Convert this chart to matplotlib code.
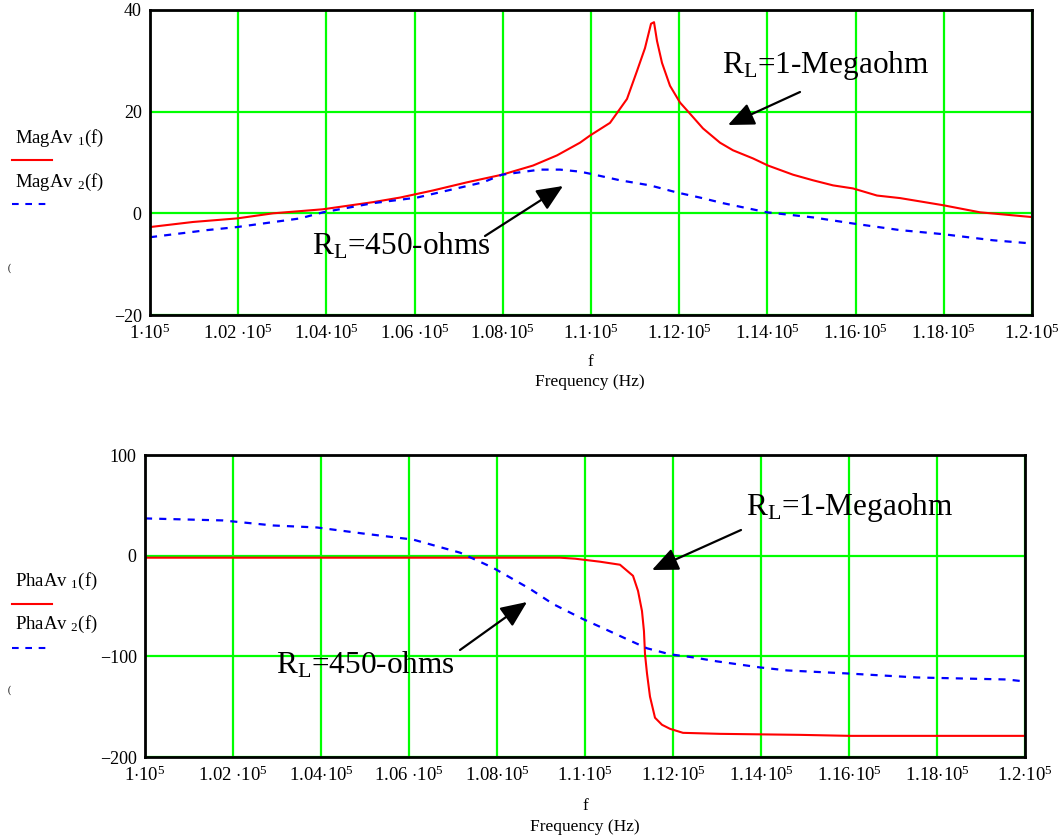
import matplotlib
matplotlib.use("Agg")
import matplotlib.pyplot as plt
from matplotlib.lines import Line2D
from matplotlib.patches import FancyArrowPatch

plt.rcParams['font.family'] = ['Liberation Serif', 'DejaVu Serif']
plt.rcParams['mathtext.fontset'] = 'custom'
plt.rcParams['mathtext.rm'] = 'Liberation Serif'
plt.rcParams['mathtext.it'] = 'Liberation Serif:italic'
plt.rcParams['mathtext.bf'] = 'Liberation Serif:bold'

# ---------------- data ----------------
# Magnitude plot (dB)
mag1_f = [100000, 100975, 101973, 102789, 103923, 105057, 105669, 106417, 107188,
          107982, 108685, 109229, 109751, 109977, 110431, 110816, 111043, 111224,
          111361, 111429, 111497, 111610, 111791, 112018, 112245, 112540, 112925,
          113220, 113674, 114014, 114581, 115034, 115488, 115941, 116485, 117007,
          117982, 118821, 119955]
mag1_v = [-2.7, -1.7, -1.0, 0.0, 0.8, 2.2, 3.1, 4.5, 6.1,
          7.6, 9.4, 11.4, 13.9, 15.3, 17.8, 22.5, 28.0, 32.5,
          37.3, 37.6, 33.9, 29.6, 25.1, 21.8, 19.6, 16.7, 13.9,
          12.4, 10.8, 9.4, 7.6, 6.5, 5.5, 4.9, 3.5, 3.0,
          1.6, 0.2, -0.7]
mag2_f = [100000, 101293, 101973, 103401, 103923, 105057, 106054, 107551, 107982,
          108844, 109297, 109751, 109977, 110658, 111338, 111950, 112472, 112993,
          113991, 115034, 115941, 117007, 117982, 119116, 119955]
mag2_v = [-4.7, -3.3, -2.7, -1.0, 0.2, 2.0, 3.1, 6.1, 7.6,
          8.6, 8.6, 8.2, 7.8, 6.5, 5.5, 4.1, 3.1, 2.0,
          0.2, -0.8, -2.0, -3.3, -4.1, -5.3, -5.9]

# Phase plot (degrees)
pha1_f = [100000, 109432, 109773, 110341, 110795, 111091, 111205, 111295, 111340,
          111364, 111409, 111477, 111591, 111750, 111932, 112227, 113068, 114886,
          116023, 120000]
pha1_v = [-2, -2, -3, -6, -9, -20, -35, -55, -75,
          -98, -117, -140, -161, -168, -172, -176, -177, -178,
          -179, -179]
pha2_f = [100000, 101773, 102909, 103909, 104955, 106091, 107159, 107909, 108750,
          109273, 109955, 110409, 110955, 111409, 111932, 112455, 113000, 113977,
          114591, 115955, 117545, 119591, 120000]
pha2_v = [37, 35, 30, 28, 22, 16, 3, -12, -33,
          -48, -63, -72, -83, -92, -98, -101, -105, -111,
          -114, -117, -121, -123, -125]

xticks = [100000, 102000, 104000, 106000, 108000, 110000, 112000, 114000,
          116000, 118000, 120000]
xtick_labels = [r"1$\cdot$10$^{5}$", r"1.02 $\cdot$10$^{5}$", r"1.04$\cdot$10$^{5}$",
                r"1.06 $\cdot$10$^{5}$", r"1.08$\cdot$10$^{5}$", r"1.1$\cdot$10$^{5}$",
                r"1.12$\cdot$10$^{5}$", r"1.14$\cdot$10$^{5}$", r"1.16$\cdot$10$^{5}$",
                r"1.18$\cdot$10$^{5}$", r"1.2$\cdot$10$^{5}$"]
mag_yticks = [-20, 0, 20, 40]
pha_yticks = [-200, -100, 0, 100]

# ---------------- figure ----------------
W, H = 1060, 840
fig = plt.figure(figsize=(W / 100, H / 100), dpi=100)

def px_axes(l, t, r, b):
    return fig.add_axes([l / W, 1 - b / H, (r - l) / W, (b - t) / H])

GREEN = '#00ff00'
RED = '#ff0000'
BLUE = '#0000ff'
DASH = (0, (3.2, 3.2))

def style(ax, ylim, yticks):
    ax.set_xlim(100000, 120000)
    ax.set_ylim(*ylim)
    ax.set_xticks(xticks)
    ax.set_xticklabels(xtick_labels, fontsize=13.5)
    ax.set_yticks(yticks)
    ax.set_yticklabels([("\u2212" + str(-v)) if v < 0 else str(v) for v in yticks],
                       fontsize=13)
    ax.grid(True, color=GREEN, lw=1.6)
    ax.set_axisbelow(True)
    ax.tick_params(length=0, pad=6)
    for s in ax.spines.values():
        s.set_color('black')
        s.set_linewidth(2)

# Top axes
ax1 = px_axes(150, 10, 1032, 315)
ax1.plot(mag1_f, mag1_v, color=RED, lw=1.5)
ax1.plot(mag2_f, mag2_v, color=BLUE, lw=1.6, linestyle=DASH)
style(ax1, (-20, 40), mag_yticks)

# Bottom axes
ax2 = px_axes(145, 455, 1025, 757)
ax2.plot(pha1_f, pha1_v, color=RED, lw=1.5)
ax2.plot(pha2_f, pha2_v, color=BLUE, lw=1.6, linestyle=DASH)
style(ax2, (-200, 100), pha_yticks)

# x labels
for yf, yl, xc in [(362, 382, 590), (806, 827, 585)]:
    fig.text(xc / W, 1 - yf / H, "f", ha='center', va='center', fontsize=12.5)
    fig.text(xc / W, 1 - yl / H, "Frequency (Hz)", ha='center', va='center', fontsize=12.5)

# legends on the left
def legend_entry(name, y_text, y_line, color, ls):
    fig.text(15 / W, 1 - y_text / H, name, ha='left', va='center', fontsize=13.5)
    fig.add_artist(Line2D([12 / W, 52 / W], [1 - y_line / H, 1 - y_line / H],
                          color=color, lw=1.5, linestyle=ls,
                          transform=fig.transFigure))

legend_entry(r"MagAv $_{1}$(f)", 138, 160, RED, '-')
legend_entry(r"MagAv $_{2}$(f)", 182, 204, BLUE, DASH)
legend_entry(r"PhaAv $_{1}$(f)", 581, 604, RED, '-')
legend_entry(r"PhaAv $_{2}$(f)", 624, 648, BLUE, DASH)

# small stray glyphs at left margin
fig.text(9 / W, 1 - 268 / H, "(", fontsize=7, ha='center', va='center')
fig.text(9 / W, 1 - 690 / H, "(", fontsize=7, ha='center', va='center')

# annotations
def annot(text, tx, ty, x0, y0, x1, y1):
    fig.text(tx / W, 1 - ty / H, text, ha='left', va='center', fontsize=22.5)
    fig.add_artist(FancyArrowPatch(
        (x0 / W, 1 - y0 / H), (x1 / W, 1 - y1 / H), transform=fig.transFigure,
        arrowstyle='-|>,head_length=16,head_width=7', mutation_scale=1,
        color='black', lw=1.6, shrinkA=0, shrinkB=0))

annot(r"R$_{\mathrm{L}}$=1-Megaohm", 722, 66, 800, 92, 728, 125)
annot(r"R$_{\mathrm{L}}$=450-ohms", 312, 246, 485, 236, 563, 186)
annot(r"R$_{\mathrm{L}}$=1-Megaohm", 746, 507, 741, 530, 652, 570)
annot(r"R$_{\mathrm{L}}$=450-ohms", 276, 665, 460, 650, 527, 602)

fig.savefig("out.png", dpi=100)
